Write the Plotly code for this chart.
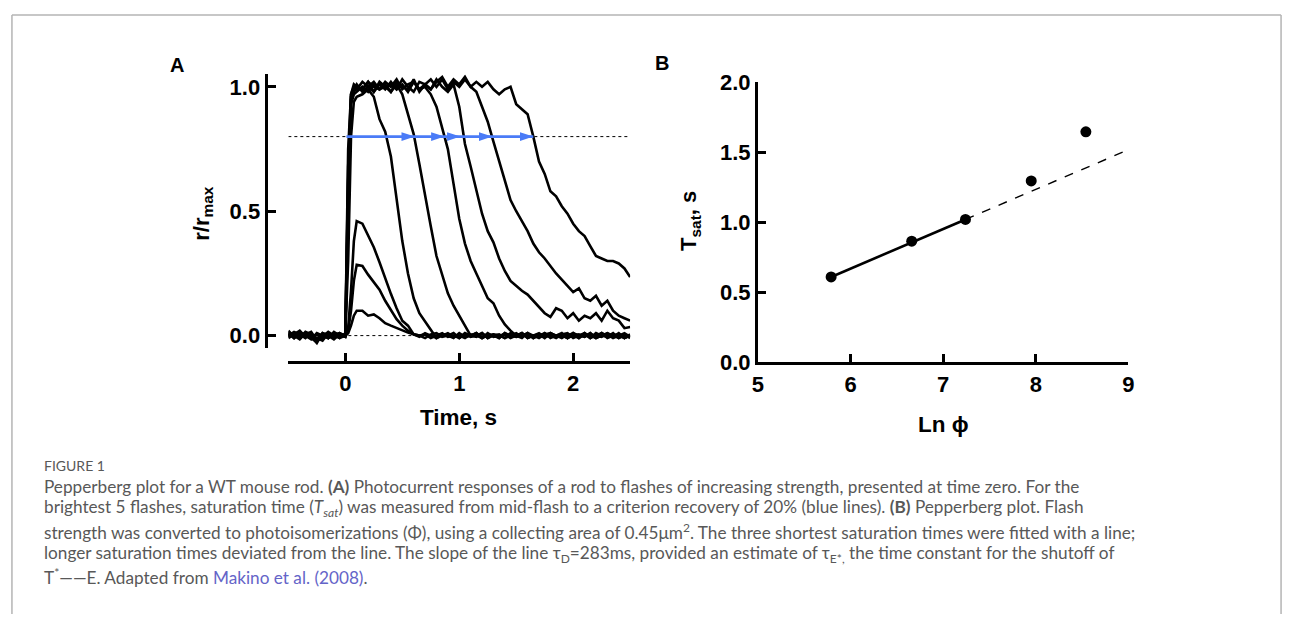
import plotly.graph_objects as go

W, H = 1293, 627


def px(x):
    return x / W


def py(y):
    return 1 - y / H


# ---------------- Panel A data (time in s, r/rmax) ----------------
time_s = [
    -0.5, -0.45, -0.4, -0.35, -0.3, -0.25, -0.2, -0.15, -0.1, -0.05,
    0.0, 0.025, 0.05, 0.075, 0.1, 0.15, 0.2, 0.25, 0.3, 0.35,
    0.4, 0.45, 0.5, 0.55, 0.6, 0.65, 0.7, 0.75, 0.8, 0.85,
    0.9, 0.95, 1.0, 1.05, 1.1, 1.15, 1.2, 1.25, 1.3, 1.35,
    1.4, 1.45, 1.5, 1.55, 1.6, 1.65, 1.7, 1.75, 1.8, 1.85,
    1.9, 1.95, 2.0, 2.05, 2.1, 2.15, 2.2, 2.25, 2.3, 2.35,
    2.4, 2.45, 2.5,
]

resp_dim1 = [
    0.01, -0.01, 0.015, 0.0, -0.01, 0.005, -0.015, 0.01, -0.005, 0.0,
    0.0, 0.01, 0.04, 0.08, 0.10, 0.10, 0.08, 0.085, 0.07, 0.05,
    0.04, 0.03, 0.022, 0.012, 0.005, 0.0, 0.005, -0.01, 0.0, 0.01,
    -0.005, 0.0, -0.01, 0.01, 0.0, -0.005, 0.01, -0.01, 0.005, 0.0,
    -0.01, 0.01, -0.005, 0.0, 0.01, -0.01, 0.005, -0.005, 0.01, 0.0,
    -0.01, 0.005, 0.0, -0.01, 0.01, -0.005, 0.0, 0.01, -0.01, 0.0,
    0.005, -0.01, 0.0,
]
resp_dim2 = [
    -0.005, 0.01, -0.01, 0.005, 0.015, -0.02, 0.0, -0.01, 0.01, -0.005,
    0.005, 0.02, 0.10, 0.22, 0.285, 0.28, 0.245, 0.215, 0.185, 0.14,
    0.10, 0.066, 0.04, 0.02, 0.005, -0.005, 0.01, 0.0, -0.01, 0.005,
    0.0, -0.01, 0.01, -0.005, 0.0, 0.01, -0.01, 0.0, 0.005, -0.01,
    0.01, 0.0, -0.005, 0.01, -0.01, 0.0, 0.01, -0.005, 0.0, -0.01,
    0.005, 0.01, -0.01, 0.0, 0.005, -0.01, 0.01, 0.0, -0.005, 0.01,
    -0.01, 0.0, -0.005,
]
resp_dim3 = [
    0.015, 0.0, -0.015, 0.01, -0.005, -0.03, 0.01, 0.005, -0.01, 0.01,
    -0.005, 0.03, 0.18, 0.38, 0.46, 0.45, 0.40, 0.355, 0.295, 0.23,
    0.168, 0.11, 0.06, 0.04, 0.005, 0.0, -0.01, 0.005, 0.01, -0.005,
    0.0, 0.01, -0.01, 0.005, -0.005, 0.0, 0.01, -0.01, 0.0, 0.005,
    -0.01, 0.0, 0.01, -0.005, 0.005, -0.01, 0.0, 0.01, -0.005, 0.0,
    0.01, -0.01, 0.0, 0.005, -0.005, 0.01, -0.01, 0.0, 0.005, -0.01,
    0.0, 0.01, -0.005,
]
resp_sat1 = [
    0.0, 0.015, 0.005, -0.01, 0.01, -0.02, -0.005, 0.015, 0.0, -0.01,
    0.01, 0.30, 0.80, 0.94, 0.96, 0.97, 0.99, 0.96, 0.87, 0.82,
    0.72, 0.54, 0.38, 0.25, 0.15, 0.09, 0.055, 0.02, -0.01, 0.0,
    0.01, -0.005, 0.0, -0.01, 0.005, 0.0, -0.01, 0.01, -0.005, 0.0,
    0.005, -0.01, 0.0, 0.01, -0.005, 0.0, -0.01, 0.005, 0.01, -0.005,
    0.0, -0.01, 0.005, 0.0, 0.01, -0.01, 0.0, -0.005, 0.01, 0.0,
    -0.01, 0.005, -0.01,
]
resp_sat2 = [
    -0.01, 0.005, 0.02, -0.005, 0.0, -0.015, 0.01, -0.01, 0.005, 0.01,
    0.0, 0.45, 0.93, 0.97, 0.98, 1.0, 0.98, 1.01, 0.99, 1.0,
    0.98, 1.01, 0.97, 0.89, 0.81, 0.69, 0.56, 0.44, 0.32, 0.24,
    0.17, 0.12, 0.08, 0.04, 0.0, 0.01, -0.01, 0.005, 0.0, -0.01,
    0.01, -0.005, 0.0, 0.01, -0.01, 0.0, 0.005, -0.01, 0.01, 0.0,
    -0.005, 0.0, 0.01, -0.01, 0.005, 0.0, -0.01, 0.01, 0.0, -0.005,
    0.01, -0.01, 0.0,
]
resp_sat3 = [
    0.02, -0.005, 0.0, 0.01, -0.01, -0.025, 0.005, 0.0, -0.015, 0.005,
    0.0, 0.55, 0.95, 0.98, 1.0, 0.99, 1.02, 0.98, 1.01, 0.99,
    1.02, 0.99, 1.01, 0.98, 1.02, 0.99, 1.0, 0.97, 0.92, 0.84,
    0.75, 0.61, 0.47, 0.37, 0.30, 0.25, 0.20, 0.15, 0.13, 0.08,
    0.045, 0.02, 0.0, -0.01, 0.01, 0.0, -0.005, 0.01, -0.01, 0.0,
    0.005, -0.01, 0.01, 0.0, -0.005, 0.01, -0.01, 0.0, 0.01, -0.005,
    0.0, -0.01, 0.005,
]
resp_sat4 = [
    -0.005, 0.01, -0.01, 0.015, 0.005, -0.01, -0.02, 0.01, 0.0, -0.005,
    0.005, 0.62, 0.96, 0.99, 1.01, 0.98, 1.0, 1.02, 0.99, 1.01,
    0.98, 1.02, 1.0, 0.99, 1.03, 0.98, 1.01, 0.99, 1.03, 1.0,
    0.98, 1.01, 0.92, 0.77, 0.68, 0.59, 0.49, 0.42, 0.375, 0.31,
    0.26, 0.22, 0.20, 0.18, 0.165, 0.14, 0.115, 0.09, 0.075, 0.11,
    0.10, 0.07, 0.09, 0.06, 0.08, 0.07, 0.09, 0.06, 0.10, 0.07,
    0.06, 0.03, 0.035,
]
resp_sat5 = [
    0.01, -0.01, 0.005, 0.0, -0.015, 0.01, 0.0, -0.01, 0.015, 0.0,
    -0.005, 0.68, 0.97, 1.0, 0.99, 1.02, 1.0, 0.98, 1.02, 1.0,
    1.01, 0.99, 1.03, 1.0, 0.98, 1.02, 1.01, 1.03, 1.0, 1.03,
    0.99, 1.02, 1.0, 1.03, 1.0, 0.98, 0.92, 0.86, 0.78, 0.70,
    0.62, 0.545, 0.50, 0.46, 0.42, 0.37, 0.335, 0.31, 0.28, 0.25,
    0.225, 0.20, 0.175, 0.19, 0.15, 0.14, 0.16, 0.12, 0.14, 0.10,
    0.08, 0.07, 0.06,
]
resp_sat6 = [
    0.0, 0.01, -0.01, 0.005, 0.01, -0.02, 0.005, -0.005, 0.01, -0.01,
    0.0, 0.75, 0.97, 1.01, 1.0, 0.99, 1.02, 1.0, 0.99, 1.02,
    1.0, 1.03, 0.99, 1.01, 1.02, 0.99, 1.01, 0.99, 1.02, 1.04,
    1.0, 1.03, 1.01, 1.04, 1.0, 1.02, 1.0, 1.02, 0.99, 0.97,
    0.99, 1.0, 0.93, 0.91, 0.89, 0.80, 0.70, 0.65, 0.58, 0.56,
    0.52, 0.49, 0.45, 0.42, 0.40, 0.36, 0.32, 0.31, 0.30, 0.30,
    0.29, 0.27, 0.235,
]
responses = [resp_dim1, resp_dim2, resp_dim3, resp_sat1, resp_sat2,
             resp_sat3, resp_sat4, resp_sat5, resp_sat6]

criterion_level = 0.8          # 20% recovery criterion
baseline_level = 0.0
arrow_start_s = 0.01           # mid-flash
arrow_end_s = [0.61, 0.87, 1.01, 1.29, 1.65]

a_xticks = [0, 1, 2]
a_yticks = [0.0, 0.5, 1.0]

# ---------------- Panel B data ----------------
ln_phi = [5.79, 6.66, 7.24, 7.95, 8.54]
t_sat = [0.61, 0.865, 1.02, 1.295, 1.645]
fit_solid_x = [5.79, 7.24]
fit_solid_y = [0.61, 1.02]
fit_dash_x = [7.24, 9.0]
fit_dash_y = [1.02, 1.518]

b_xticks = [5, 6, 7, 8, 9]
b_yticks = [0.0, 0.5, 1.0, 1.5, 2.0]

# ---------------- styling ----------------
AX_FONT = "Liberation Sans, Arial, Helvetica, sans-serif"
CAP_FONT = "Lato, Open Sans, sans-serif"
BLUE = "#4a7bf7"
CAP_COLOR = "#585858"

fig = go.Figure()

# dotted reference lines
for lvl in [baseline_level, criterion_level]:
    fig.add_trace(go.Scatter(
        x=[time_s[0], time_s[-1]], y=[lvl, lvl], mode="lines",
        line=dict(color="black", width=1, dash="dot"),
        xaxis="x", yaxis="y", hoverinfo="skip", showlegend=False))

for r in responses:
    fig.add_trace(go.Scatter(
        x=time_s, y=r, mode="lines",
        line=dict(color="black", width=2.6),
        xaxis="x", yaxis="y", showlegend=False))

# blue saturation-time arrows: one line plus arrowheads at each end time
fig.add_trace(go.Scatter(
    x=[arrow_start_s, max(arrow_end_s)], y=[criterion_level, criterion_level],
    mode="lines", line=dict(color=BLUE, width=2.8),
    xaxis="x", yaxis="y", showlegend=False))
fig.add_trace(go.Scatter(
    x=arrow_end_s, y=[criterion_level] * len(arrow_end_s), mode="markers",
    marker=dict(symbol="arrow", angle=90, size=14, color=BLUE,
                line=dict(width=0)),
    xaxis="x", yaxis="y", showlegend=False))

# Panel B
fig.add_trace(go.Scatter(
    x=fit_dash_x, y=fit_dash_y, mode="lines",
    line=dict(color="black", width=1.4, dash="dash"),
    xaxis="x2", yaxis="y2", showlegend=False))
fig.add_trace(go.Scatter(
    x=fit_solid_x, y=fit_solid_y, mode="lines",
    line=dict(color="black", width=2.6),
    xaxis="x2", yaxis="y2", showlegend=False))
fig.add_trace(go.Scatter(
    x=ln_phi, y=t_sat, mode="markers",
    marker=dict(color="black", size=11),
    xaxis="x2", yaxis="y2", showlegend=False))

tickfont = dict(family=AX_FONT, size=22, color="black", weight="bold")
axis_common = dict(showline=True, linewidth=3, linecolor="black",
                   ticks="inside", ticklen=8, tickwidth=3, tickcolor="black",
                   showgrid=False, zeroline=False, tickfont=tickfont)

fig.update_layout(
    width=W, height=H, autosize=False,
    margin=dict(l=0, r=0, t=0, b=0),
    paper_bgcolor="white", plot_bgcolor="white",
    showlegend=False,
    xaxis=dict(domain=[px(285), px(630)], range=[-0.5, 2.5], anchor="free",
               position=py(365), tickvals=a_xticks, **axis_common),
    yaxis=dict(domain=[py(350), py(65)], range=[-0.05, 1.05], anchor="free",
               position=px(262), tickvals=a_yticks, tickformat=".1f",
               **axis_common),
    xaxis2=dict(domain=[px(759), px(1133)], range=[5, 9], anchor="y2",
                tickvals=b_xticks, **axis_common),
    yaxis2=dict(domain=[py(365), py(73)], range=[0, 2], anchor="x2",
                tickvals=b_yticks, tickformat=".1f", **axis_common),
)

bold = dict(family=AX_FONT, color="black", weight="bold")


def label(text, x, y, size, angle=0, font=None, xanchor="center", color=None):
    f = dict(font or bold)
    f["size"] = size
    if color:
        f["color"] = color
    fig.add_annotation(text=text, x=px(x), y=py(y), xref="paper", yref="paper",
                       showarrow=False, xanchor=xanchor, yanchor="middle",
                       textangle=angle, font=f)


label("A", 173, 55, 20)
label("B", 662, 53, 20)
label("r/r<sub>max</sub>", 198, 210, 22, angle=-90)
label("Time, s", 457, 422, 22.5)
label("T<sub>sat</sub>, s", 691, 218, 22, angle=-90)
label("Ln ϕ", 946, 430, 22.5)

# caption
capfont = dict(family=CAP_FONT, color=CAP_COLOR, weight="normal")
label("FIGURE 1", 36, 472, 14, font=capfont, xanchor="left")
caption_lines = [
    "Pepperberg plot for a WT mouse rod. <b>(A)</b> Photocurrent responses of a rod to flashes of increasing strength, presented at time zero. For the",
    "brightest 5 flashes, saturation time (<i>T<sub>sat</sub></i>) was measured from mid-flash to a criterion recovery of 20% (blue lines). <b>(B)</b> Pepperberg plot. Flash",
    "strength was converted to photoisomerizations (Φ), using a collecting area of 0.45μm<sup>2</sup>. The three shortest saturation times were fitted with a line;",
    "longer saturation times deviated from the line. The slope of the line τ<sub>D</sub>=283ms, provided an estimate of τ<sub>E*,</sub> the time constant for the shutoff of",
    "T<sup>*</sup>——E. Adapted from <span style='color:#6464c8'>Makino et al. (2008)</span>.",
]
caption_y = [494, 517, 541, 565, 588]
for txt, yy in zip(caption_lines, caption_y):
    label(txt, 36, yy, 17.2, font=capfont, xanchor="left")

# figure frame
frame = dict(color="#b4b4b4", width=1.5)
fig.add_shape(type="line", xref="paper", yref="paper",
              x0=px(6), x1=px(1287), y0=py(3), y1=py(3), line=frame)
fig.add_shape(type="line", xref="paper", yref="paper",
              x0=px(6), x1=px(6), y0=py(3), y1=py(627), line=frame)
fig.add_shape(type="line", xref="paper", yref="paper",
              x0=px(1287), x1=px(1287), y0=py(3), y1=py(627), line=frame)

fig.write_html("out.html", config={"displayModeBar": False, "responsive": False},
               post_script="document.body.style.margin='0';document.body.style.overflow='hidden';document.documentElement.style.overflow='hidden';")
